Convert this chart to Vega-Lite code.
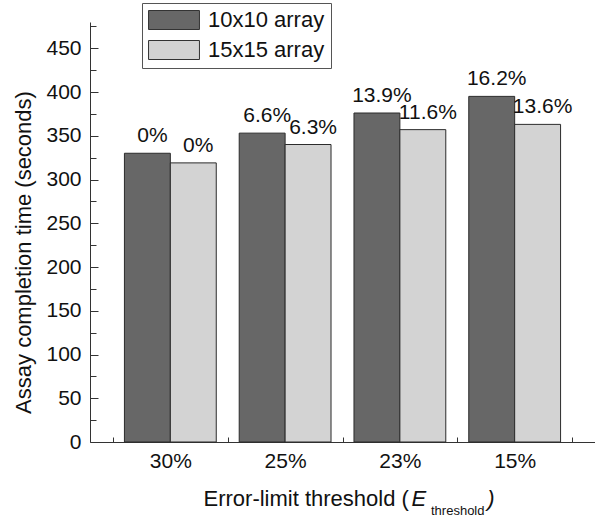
{
  "$schema": "https://vega.github.io/schema/vega-lite/v6.json",
  "width": 505,
  "height": 420,
  "autosize": "none",
  "padding": {"left": 90, "top": 22, "right": 0, "bottom": 75},
  "background": "white",
  "data": {
    "values": [
      {"threshold": "30%", "array": "10x10 array", "time": 330, "label": "0%"},
      {"threshold": "30%", "array": "15x15 array", "time": 319, "label": "0%"},
      {"threshold": "25%", "array": "10x10 array", "time": 353, "label": "6.6%"},
      {"threshold": "25%", "array": "15x15 array", "time": 340, "label": "6.3%"},
      {"threshold": "23%", "array": "10x10 array", "time": 376, "label": "13.9%"},
      {"threshold": "23%", "array": "15x15 array", "time": 357, "label": "11.6%"},
      {"threshold": "15%", "array": "10x10 array", "time": 395, "label": "16.2%"},
      {"threshold": "15%", "array": "15x15 array", "time": 363, "label": "13.6%"}
    ]
  },
  "title": {
    "text": "threshold",
    "orient": "bottom",
    "anchor": "start",
    "frame": "group",
    "dx": 341,
    "offset": -4,
    "font": "Liberation Sans",
    "fontSize": 13,
    "fontWeight": "normal",
    "color": "#111"
  },
  "encoding": {
    "y": {
      "field": "time",
      "type": "quantitative",
      "scale": {"domain": [0, 480], "nice": false, "zero": true},
      "axis": {
        "values": [0, 25, 50, 75, 100, 125, 150, 175, 200, 225, 250, 275, 300, 325, 350, 375, 400, 425, 450, 475],
        "labelExpr": "datum.value % 50 === 0 ? datum.label : ''",
        "tickSize": {"condition": {"test": "datum.value % 50 === 0", "value": -8}, "value": -6},
        "labelPadding": 17,
        "grid": false,
        "domainColor": "#333",
        "tickColor": "#333",
        "labelFont": "Liberation Sans",
        "labelFontSize": 21,
        "labelColor": "#111",
        "title": "Assay completion time (seconds)",
        "titleFont": "Liberation Sans",
        "titleFontSize": 22,
        "titleFontWeight": "normal",
        "titleColor": "#111",
        "titleX": -67,
        "titleY": 230,
        "titleAngle": -90,
        "titleAlign": "center",
        "titleBaseline": "middle"
      }
    }
  },
  "layer": [
    {
      "mark": {"type": "bar", "stroke": "#2b2b2b", "strokeWidth": 1},
      "encoding": {
        "x": {
          "field": "threshold",
          "type": "nominal",
          "sort": ["30%", "25%", "23%", "15%"],
          "scale": {"paddingInner": 0, "paddingOuter": 0.2},
          "axis": {
            "orient": "bottom",
            "labelAngle": 0,
            "tickBand": "extent",
            "tickSize": -5,
            "labelPadding": 13,
            "domainColor": "#333",
            "tickColor": "#333",
            "labelFont": "Liberation Sans",
            "labelFontSize": 21,
            "labelColor": "#111",
            "title": "Error-limit threshold (",
            "titleFont": "Liberation Sans",
            "titleFontSize": 22,
            "titleFontWeight": "normal",
            "titleColor": "#111",
            "titleX": 113,
            "titleY": 63,
            "titleAlign": "left",
            "titleBaseline": "alphabetic"
          }
        },
        "xOffset": {"field": "array", "type": "nominal", "scale": {"paddingInner": 0, "paddingOuter": 0.25}},
        "color": {
          "field": "array",
          "type": "nominal",
          "scale": {"domain": ["10x10 array", "15x15 array"], "range": ["#676767", "#d3d3d3"]},
          "legend": {
            "title": null,
            "orient": "none",
            "legendX": 52,
            "legendY": -19,
            "symbolType": "M-2.68,-1H2.68V1H-2.68Z",
            "symbolSize": 361,
            "symbolOffset": 15,
            "symbolStrokeColor": "#333",
            "symbolStrokeWidth": 1,
            "symbolOpacity": 1,
            "labelFont": "Liberation Sans",
            "labelFontSize": 22,
            "labelColor": "#111",
            "labelOffset": 23,
            "rowPadding": 6,
            "strokeColor": "#555",
            "fillColor": "white",
            "padding": 6
          }
        }
      }
    },
    {
      "mark": {"type": "text", "baseline": "alphabetic", "align": "center", "dx": 5, "dy": -11, "font": "Liberation Sans", "fontSize": 21, "color": "#111"},
      "encoding": {
        "x": {
          "field": "threshold",
          "type": "nominal",
          "sort": ["30%", "25%", "23%", "15%"],
          "axis": {
            "orient": "bottom",
            "labels": false,
            "ticks": false,
            "domain": false,
            "title": "E\u00a0\u00a0\u00a0\u00a0\u00a0\u00a0\u00a0\u00a0\u00a0\u00a0)",
            "titleFont": "Liberation Sans",
            "titleFontSize": 22,
            "titleFontWeight": "normal",
            "titleFontStyle": "italic",
            "titleColor": "#111",
            "titleX": 321,
            "titleY": 63,
            "titleAlign": "left",
            "titleBaseline": "alphabetic"
          }
        },
        "xOffset": {"field": "array", "type": "nominal"},
        "text": {"field": "label"}
      }
    }
  ],
  "resolve": {"axis": {"x": "independent"}},
  "config": {"view": {"stroke": null}}
}
